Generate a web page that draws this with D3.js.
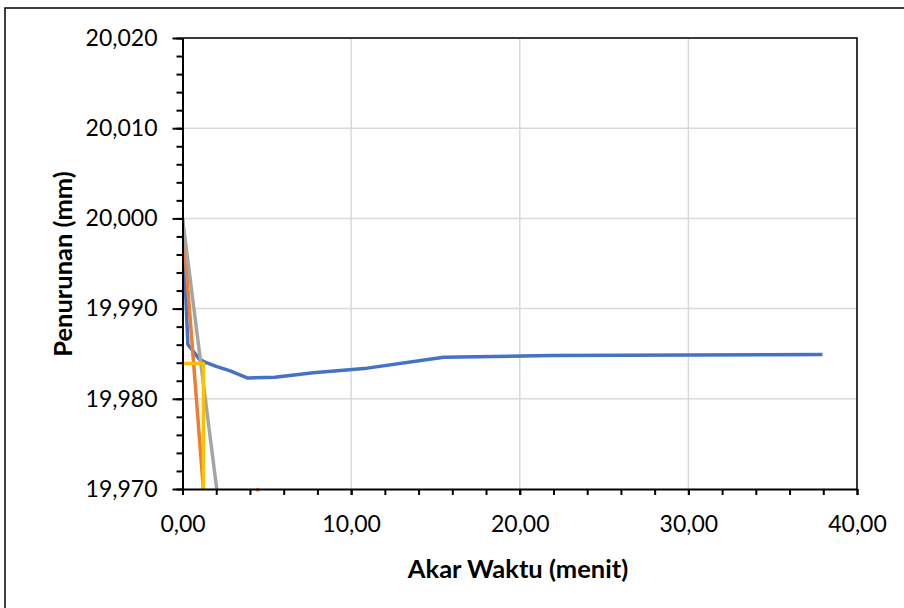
<!DOCTYPE html>
<html>
<head>
<meta charset="utf-8">
<script src="https://cdn.jsdelivr.net/npm/d3@7"></script>
<style>
  html, body { margin: 0; padding: 0; background: #fff; }
  svg { display: block; }
  .tick text { font-family: Lato, "Open Sans", sans-serif; font-size: 23px; fill: #000; }
  .axis-title { font-family: Lato, "Open Sans", sans-serif; font-size: 25.5px; font-weight: bold; fill: #000; }
</style>
</head>
<body>
<script>
// Taylor square-root-of-time plot: settlement readings vs sqrt(time)
const akarWaktu = [0, 0.32, 0.5, 0.71, 1.0, 1.41, 2.0, 2.83, 3.87, 5.48, 7.75, 10.95, 15.49, 21.91, 37.95];
const penurunan = [20.000, 19.9860, 19.9856, 19.9851, 19.9844, 19.9840, 19.9836, 19.9831, 19.9823, 19.9824, 19.9829, 19.9834, 19.9846, 19.9848, 19.9849];

// initial tangent line
const garisAwalX = [0, 1.24];
const garisAwalY = [19.9998, 19.970];

// line with abscissa multiplied by 1.15
const garis115X = [0, 2.03];
const garis115Y = [20.000, 19.970];

// t90 guide lines
const t90X = [0, 1.24, 1.24];
const t90Y = [19.9839, 19.9839, 19.970];

// stray point on the lower axis
const titikX = [4.46];
const titikY = [19.9699];

const xTicks = [0, 10, 20, 30, 40];
const yTicks = [19.97, 19.98, 19.99, 20.00, 20.01, 20.02];

const W = 904, H = 608;
const svg = d3.select("body").append("svg").attr("width", W).attr("height", H);

// outer frame of the chart object
svg.append("rect")
  .attr("x", 5).attr("y", 8).attr("width", W + 20).attr("height", H + 20)
  .attr("fill", "none").attr("stroke", "#000").attr("stroke-width", 1.5);

const locale = d3.formatLocale({ decimal: ",", thousands: ".", grouping: [3], currency: ["", ""] });
const fx = locale.format(".2f");
const fy = locale.format(".3f");

const x = d3.scaleLinear().domain([0, 40]).range([182.5, 857]);
const y = d3.scaleLinear().domain([19.97, 20.02]).range([489, 38]);

const grid = svg.append("g");
grid.selectAll("line.h").data(yTicks.slice(1)).join("line")
  .attr("x1", x(0)).attr("x2", x(40))
  .attr("y1", d => y(d)).attr("y2", d => y(d))
  .attr("stroke", "#d9d9d9").attr("stroke-width", 1.5);
grid.selectAll("line.v").data(xTicks.slice(1)).join("line")
  .attr("x1", d => x(d)).attr("x2", d => x(d))
  .attr("y1", y(19.97)).attr("y2", y(20.02))
  .attr("stroke", "#d9d9d9").attr("stroke-width", 1.5);

// top and right border of the plot area
svg.append("path")
  .attr("d", `M${x(0)},${y(20.02)}H${x(40)}V${y(19.97)}`)
  .attr("fill", "none").attr("stroke", "#000").attr("stroke-width", 1.5);

const plot = svg.append("g");
svg.append("clipPath").attr("id", "clip")
  .append("rect").attr("x", x(0)).attr("y", y(20.02))
  .attr("width", x(40) - x(0)).attr("height", y(19.97) - y(20.02));
plot.attr("clip-path", "url(#clip)");

const line = d3.line().x(d => x(d[0])).y(d => y(d[1]));
const series = [
  { xs: akarWaktu, ys: penurunan, color: "#4472C4" },
  { xs: garisAwalX, ys: garisAwalY, color: "#ED7D31" },
  { xs: garis115X, ys: garis115Y, color: "#A5A5A5" },
  { xs: t90X, ys: t90Y, color: "#FFC000" }
];
series.forEach(s => {
  plot.append("path")
    .datum(s.xs.map((v, i) => [v, s.ys[i]]))
    .attr("d", line)
    .attr("fill", "none")
    .attr("stroke", s.color)
    .attr("stroke-width", 3.5)
    .attr("stroke-linejoin", "round");
});
svg.selectAll("circle.titik").data(titikX.map((v, i) => [v, titikY[i]])).join("circle")
  .attr("cx", d => x(d[0])).attr("cy", d => y(d[1])).attr("r", 1.8)
  .attr("fill", "#ED7D31");

// y axis: minor ticks then major ticks with labels
const yMinor = d3.range(19.97, 20.0201, 0.002);
svg.append("g").attr("transform", `translate(${x(0)},0)`)
  .call(d3.axisLeft(y).tickValues(yMinor).tickSize(6).tickFormat(""))
  .call(g => g.select(".domain").remove())
  .call(g => g.selectAll("line").attr("stroke", "#000").attr("stroke-width", 2));
svg.append("g").attr("transform", `translate(${x(0)},0)`)
  .call(d3.axisLeft(y).tickValues(yTicks).tickSize(10).tickSizeOuter(0).tickPadding(15).tickFormat(fy))
  .call(g => g.select(".domain").attr("stroke", "#000").attr("stroke-width", 2))
  .call(g => g.selectAll("line").attr("stroke", "#000").attr("stroke-width", 2))
  .call(g => g.selectAll("text").attr("font-family", null).attr("font-size", null));

// x axis
const xMinor = d3.range(0, 40.01, 2);
svg.append("g").attr("transform", `translate(0,${y(19.97)})`)
  .call(d3.axisBottom(x).tickValues(xMinor).tickSize(6).tickFormat(""))
  .call(g => g.select(".domain").remove())
  .call(g => g.selectAll("line").attr("stroke", "#000").attr("stroke-width", 2));
svg.append("g").attr("transform", `translate(0,${y(19.97)})`)
  .call(d3.axisBottom(x).tickValues(xTicks).tickSize(6).tickSizeOuter(0).tickPadding(21).tickFormat(fx))
  .call(g => g.select(".domain").attr("stroke", "#000").attr("stroke-width", 2))
  .call(g => g.selectAll("line").attr("stroke", "#000").attr("stroke-width", 2))
  .call(g => g.selectAll("text").attr("font-family", null).attr("font-size", null));

// axis titles
svg.append("text").attr("class", "axis-title")
  .attr("x", 518).attr("y", 578).attr("text-anchor", "middle")
  .text("Akar Waktu (menit)");
svg.append("text").attr("class", "axis-title")
  .attr("transform", "translate(72,264) rotate(-90)")
  .attr("text-anchor", "middle")
  .text("Penurunan (mm)");
</script>
</body>
</html>
